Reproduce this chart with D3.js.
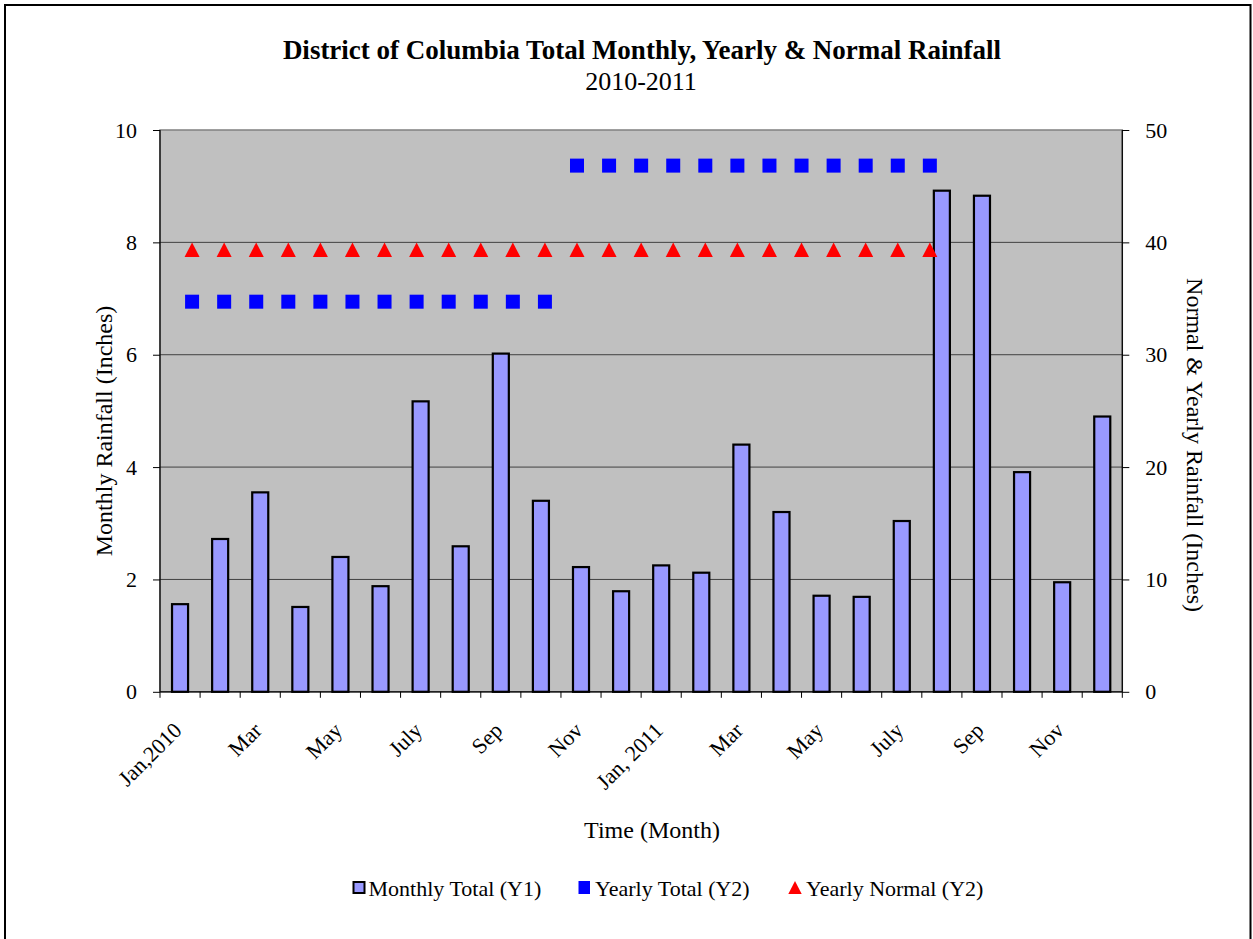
<!DOCTYPE html>
<html>
<head>
<meta charset="utf-8">
<script src="https://cdn.jsdelivr.net/npm/d3@7"></script>
<style>
  html, body { margin: 0; padding: 0; background: #ffffff; }
  svg { display: block; font-family: "Liberation Serif", "Times New Roman", serif; }
</style>
</head>
<body>
<svg id="chart" width="1253" height="939"></svg>
<script>
// ---- data ----
const months = ["Jan 2010","Feb 2010","Mar 2010","Apr 2010","May 2010","Jun 2010","Jul 2010","Aug 2010","Sep 2010","Oct 2010","Nov 2010","Dec 2010",
                "Jan 2011","Feb 2011","Mar 2011","Apr 2011","May 2011","Jun 2011","Jul 2011","Aug 2011","Sep 2011","Oct 2011","Nov 2011","Dec 2011"];
const tickLabels = ["Jan,2010","","Mar","","May","","July","","Sep","","Nov","",
                    "Jan, 2011","","Mar","","May","","July","","Sep","","Nov",""];
const monthlyTotal = [1.56,2.72,3.55,1.51,2.40,1.88,5.17,2.59,6.02,3.40,2.22,1.79,
                      2.25,2.12,4.40,3.20,1.71,1.69,3.04,8.92,8.83,3.91,1.95,4.90];
const yearlyTotal = [34.72,34.72,34.72,34.72,34.72,34.72,34.72,34.72,34.72,34.72,34.72,34.72,
                     46.83,46.83,46.83,46.83,46.83,46.83,46.83,46.83,46.83,46.83,46.83,46.83];
const yearlyNormal = [39.35,39.35,39.35,39.35,39.35,39.35,39.35,39.35,39.35,39.35,39.35,39.35,
                      39.35,39.35,39.35,39.35,39.35,39.35,39.35,39.35,39.35,39.35,39.35,39.35];
const y1Ticks = [0,2,4,6,8,10];
const y2Ticks = [0,10,20,30,40,50];
const legendItems = ["Monthly Total (Y1)","Yearly Total (Y2)","Yearly Normal (Y2)"];

// ---- layout ----
const svg = d3.select("#chart");
const L = 160, R = 1122.3, T = 130, B = 691.8;

// outer border
svg.append("rect").attr("x",5).attr("y",5).attr("width",1245.5).attr("height",960)
  .attr("fill","#fff").attr("stroke","#000").attr("stroke-width",2);

const x = d3.scaleBand().domain(months).range([L,R]).paddingInner(0.6).paddingOuter(0.3);
const xCat = d3.scaleBand().domain(months).range([L,R]);
const x2 = d3.scaleLinear().domain([0,30]).range([L,R]);
const y1 = d3.scaleLinear().domain([0,10]).range([B,T]);
const y2 = d3.scaleLinear().domain([0,50]).range([B,T]);

// plot area
svg.append("rect").attr("x",L).attr("y",T).attr("width",R-L).attr("height",B-T)
  .attr("fill","#c0c0c0").attr("stroke","#808080").attr("stroke-width",1.5);

// gridlines
svg.append("g").selectAll("line").data(y1Ticks.filter(d=>d>0 && d<10)).join("line")
  .attr("x1",L).attr("x2",R).attr("y1",d=>y1(d)).attr("y2",d=>y1(d))
  .attr("stroke","#404040").attr("stroke-width",1);

// bars
svg.append("g").selectAll("rect").data(monthlyTotal).join("rect")
  .attr("x",(d,i)=>x(months[i])).attr("width",x.bandwidth())
  .attr("y",d=>y1(d)).attr("height",d=>B-y1(d))
  .attr("fill","#9999ff").attr("stroke","#000").attr("stroke-width",2.2);

// markers: yearly total squares
const sq = 14;
svg.append("g").selectAll("rect").data(yearlyTotal).join("rect")
  .attr("x",(d,i)=>x2(i+1)-sq/2).attr("y",d=>y2(d)-sq/2)
  .attr("width",sq).attr("height",sq).attr("fill","#0000ff");

// markers: yearly normal triangles
const tw = 15, th = 14.5;
svg.append("g").selectAll("path").data(yearlyNormal).join("path")
  .attr("d",(d,i)=>{
    const cx = x2(i+1), cy = y2(d);
    return `M${cx},${cy-th/2}L${cx+tw/2},${cy+th/2}L${cx-tw/2},${cy+th/2}Z`;
  })
  .attr("fill","#ff0000");

// axes
const fontSize = 22;
const leftAxis = d3.axisLeft(y1).tickValues(y1Ticks).tickSize(7).tickPadding(16).tickFormat(d3.format("d"));
const gL = svg.append("g").attr("transform",`translate(${L},0)`).call(leftAxis);
const rightAxis = d3.axisRight(y2).tickValues(y2Ticks).tickSize(7).tickPadding(16).tickFormat(d3.format("d"));
const gR = svg.append("g").attr("transform",`translate(${R},0)`).call(rightAxis);
const bottomAxis = d3.axisBottom(xCat).tickSize(0).tickFormat("");
const gB = svg.append("g").attr("transform",`translate(0,${B})`).call(bottomAxis);
[gL,gR,gB].forEach(g=>{
  g.attr("font-family","Liberation Serif, serif");
  g.select(".domain").attr("stroke","#000").attr("stroke-width",1.2);
  g.selectAll(".tick line").attr("stroke","#000").attr("stroke-width",1);
  g.selectAll("text").attr("font-size",fontSize).attr("fill","#000");
});
gL.select(".domain").attr("d",`M0,${T}V${B}`);
gR.select(".domain").attr("d",`M0,${T}V${B}`);
gB.select(".domain").attr("d",`M${L},0H${R}`);

// category boundary ticks
const boundaries = d3.range(months.length+1);
svg.append("g").selectAll("line").data(boundaries).join("line")
  .attr("x1",i=> i<months.length ? xCat(months[i]) : R)
  .attr("x2",i=> i<months.length ? xCat(months[i]) : R)
  .attr("y1",B).attr("y2",B+6).attr("stroke","#000").attr("stroke-width",1);

// rotated category labels
svg.append("g").selectAll("text").data(tickLabels.map((t,i)=>({t,i})).filter(d=>d.t!=="")).join("text")
  .attr("transform",d=>`translate(${xCat(months[d.i])+xCat.bandwidth()/2+3},${B+40}) rotate(-45)`)
  .attr("text-anchor","end").attr("font-size",fontSize).attr("fill","#000")
  .text(d=>d.t);

// titles
svg.append("text").attr("x",642).attr("y",59).attr("text-anchor","middle")
  .attr("font-size",27).attr("font-weight","bold").text("District of Columbia Total Monthly, Yearly & Normal Rainfall");
svg.append("text").attr("x",641).attr("y",90).attr("text-anchor","middle")
  .attr("font-size",26).text("2010-2011");

// axis titles
svg.append("text").attr("transform","translate(112,431) rotate(-90)").attr("text-anchor","middle")
  .attr("font-size",24).text("Monthly Rainfall (Inches)");
svg.append("text").attr("transform","translate(1187,445) rotate(90)").attr("text-anchor","middle")
  .attr("font-size",24).text("Normal & Yearly Rainfall (Inches)");
svg.append("text").attr("x",652).attr("y",838).attr("text-anchor","middle")
  .attr("font-size",24).text("Time (Month)");

// legend
const ly = 896;
const lg = svg.append("g");
lg.append("rect").attr("x",353.5).attr("y",ly-14).attr("width",11).attr("height",11)
  .attr("fill","#9999ff").attr("stroke","#000").attr("stroke-width",2);
lg.append("text").attr("x",368.5).attr("y",ly).attr("font-size",22).text(legendItems[0]);
lg.append("rect").attr("x",578.5).attr("y",ly-15).attr("width",11.5).attr("height",13).attr("fill","#0000ff");
lg.append("text").attr("x",595).attr("y",ly).attr("font-size",22).text(legendItems[1]);
lg.append("path").attr("d",`M795,${ly-15}L801.7,${ly-2}L788.3,${ly-2}Z`).attr("fill","#ff0000");
lg.append("text").attr("x",806).attr("y",ly).attr("font-size",22).text(legendItems[2]);
</script>
</body>
</html>
